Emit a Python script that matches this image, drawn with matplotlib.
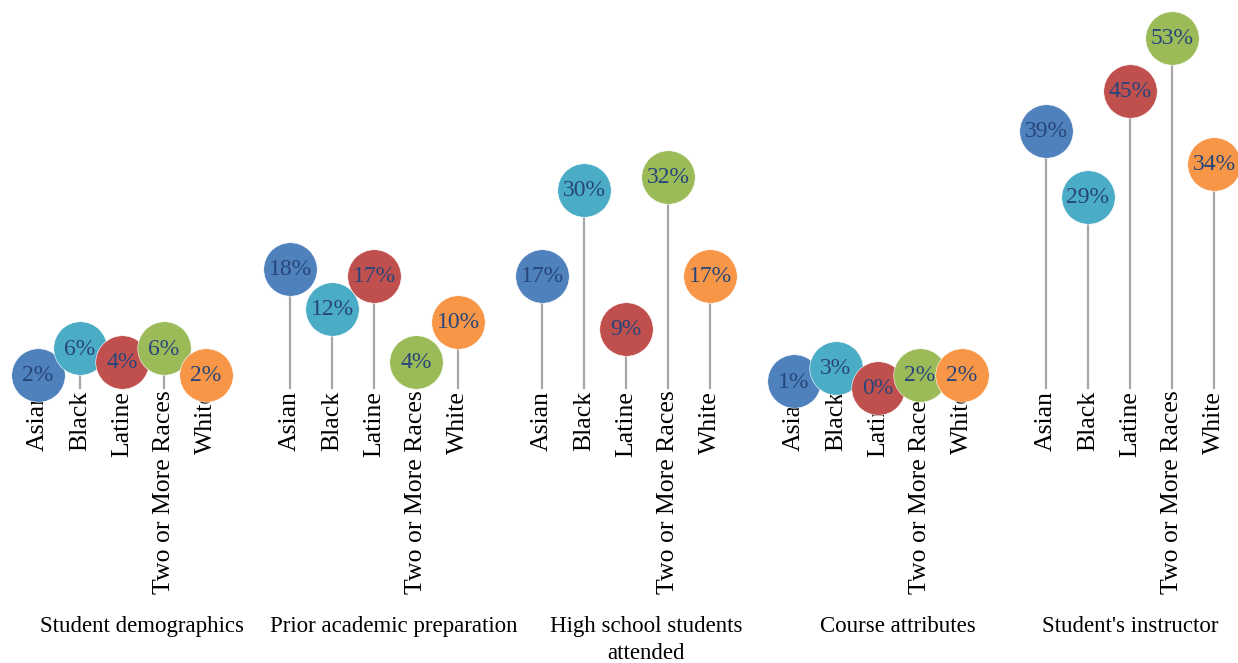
import matplotlib
matplotlib.use("Agg")
import matplotlib.pyplot as plt
import numpy as np

groups = ["Student demographics", "Prior academic preparation",
          "High school students\nattended", "Course attributes",
          "Student's instructor"]
races = ["Asian", "Black", "Latine", "Two or More Races", "White"]
asian = [2, 18, 17, 1, 39]
black = [6, 12, 30, 3, 29]
latine = [4, 17, 9, 0, 45]
two_more = [6, 4, 32, 2, 53]
white = [2, 10, 17, 2, 34]
series = [asian, black, latine, two_more, white]
colors = ["#4F81BD", "#4BACC6", "#C0504D", "#9BBB59", "#F79646"]

plt.rcParams['font.family'] = ['Liberation Serif', 'DejaVu Serif']

fig = plt.figure(figsize=(12.38, 6.63), dpi=100)
W, H = 1238, 663
base_px = 388
ppp = 6.6  # pixels per percent
ax = fig.add_axes([0, (H - base_px) / H, 1, base_px / H])
x0_px, slot_px = 38, 42
ax.set_xlim(-x0_px / slot_px, (W - x0_px) / slot_px)
ax.set_ylim(0, base_px / ppp)
ax.axis("off")

n_r = len(races)
ticks, ticklabels = [], []
for gi, g in enumerate(groups):
    for ri in range(n_r):
        x = gi * (n_r + 1) + ri
        ticks.append(x)
        ticklabels.append(races[ri])

for ri, (vals, c) in enumerate(zip(series, colors)):
    for gi, v in enumerate(vals):
        x = gi * (n_r + 1) + ri
        ax.plot([x, x], [0, v], color="#A6A6A6", lw=1.6, zorder=1, clip_on=False)
for ri, (vals, c) in enumerate(zip(series, colors)):
    for gi, v in enumerate(vals):
        x = gi * (n_r + 1) + ri
        ax.plot([x], [v], "o", ms=38.5, color=c, mec="white", mew=0.4,
                zorder=10 + 2 * ri, clip_on=False)
        ax.text(x, v - 0.1, f"{v}%", ha="center", va="center", fontsize=17,
                color="#27457A", zorder=11 + 2 * ri, clip_on=False)

# tick labels (rotated)
for x, lab in zip(ticks, ticklabels):
    ax.text(x, -0.4, lab, rotation=90, ha="center", va="top", fontsize=18.5,
            color="black", clip_on=False)

offs = [0.48, 0.48, 0.48, 0.48, 0.0]
for gi, g in enumerate(groups):
    xc = gi * (n_r + 1) + (n_r - 1) / 2 + offs[gi]
    fig.text((x0_px + xc * slot_px) / W, 1 - 616 / H, g, ha="center", va="top",
             fontsize=16.5, linespacing=1.35)

fig.savefig("out.png", dpi=100)
